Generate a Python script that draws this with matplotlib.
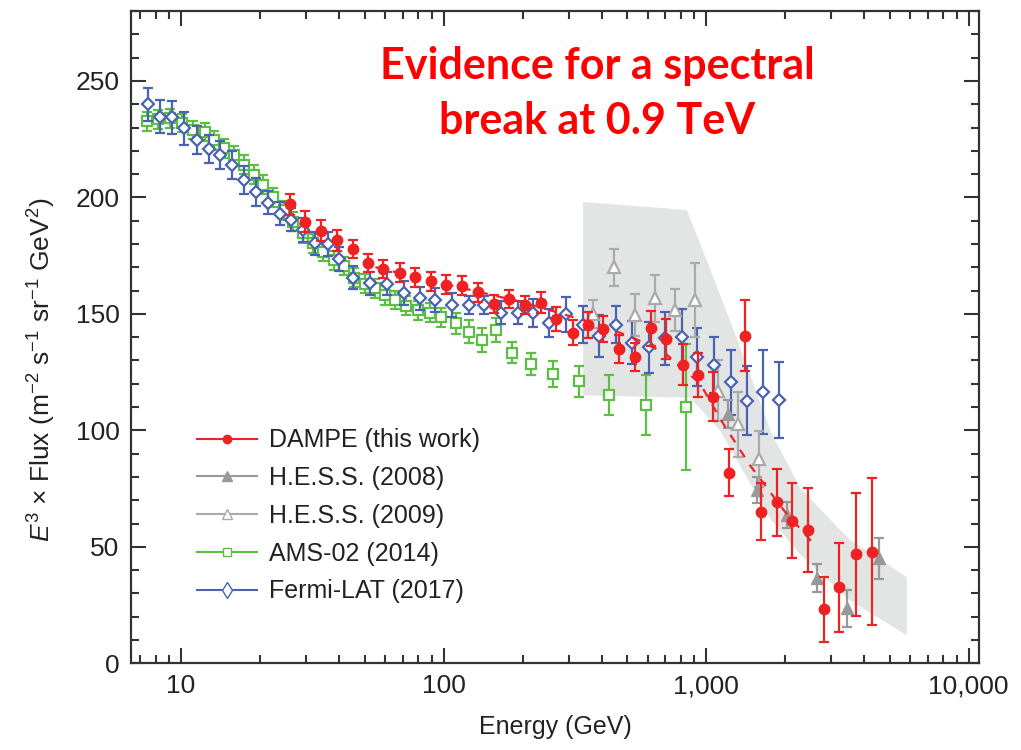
import matplotlib
matplotlib.use("Agg")
import matplotlib.pyplot as plt
import matplotlib.ticker as ticker
from matplotlib.lines import Line2D

plt.rcParams['font.family'] = ['Liberation Sans', 'DejaVu Sans']
plt.rcParams['mathtext.fontset'] = 'custom'
plt.rcParams['mathtext.rm'] = 'Liberation Sans'
plt.rcParams['mathtext.it'] = 'Liberation Sans:italic'

# DAMPE (this work)
dampe_E = [26.0, 29.6, 34.0, 39.2, 45.0, 51.6, 59.0, 68.0, 78.0, 89.5, 102, 118, 135, 155,
           178, 205, 236, 268, 311, 356, 405, 465, 537, 615, 704, 815, 935, 1067, 1228,
           1409, 1622, 1858, 2133, 2455, 2818, 3223, 3718, 4280]
dampe_F = [197.1, 189.6, 185.6, 181.7, 177.8, 171.8, 169.2, 167.7, 165.7, 163.9, 162.5, 162.1,
           159.3, 154.3, 156.4, 153.8, 154.8, 147.8, 142.0, 145.1, 143.4, 135.1, 131.4, 143.8,
           139.1, 128.1, 123.7, 114.4, 81.8, 140.7, 65.1, 69.1, 61.2, 57.2, 23.2, 32.6, 46.8, 47.9]
dampe_err = [4.5, 4.5, 4.5, 4.5, 4.0, 4.0, 4.0, 4.0, 4.0, 4.0, 4.0, 4.0, 4.0, 4.0,
             4.0, 4.0, 4.5, 5.0, 5.5, 5.5, 5.5, 6.0, 6.0, 7.5, 8.5, 8.8, 9.3, 10.6, 10.0,
             15.4, 12.2, 14.3, 16.1, 17.9, 14.0, 19.0, 26.3, 31.5]

# DAMPE smoothly broken power-law fit
fit_E = [55, 100, 200, 400, 545, 700, 950, 1160, 1470, 2000, 2630]
fit_F = [170, 163, 155, 145, 139, 133, 120, 103, 85, 65, 50]

# H.E.S.S. (2008)
hess08_E = [1216, 1560, 2028, 2643, 3436, 4539]
hess08_F = [107.0, 74.4, 63.7, 36.5, 23.6, 45.1]
hess08_err = [6.0, 5.4, 5.7, 6.0, 7.9, 8.7]

# H.E.S.S. (2009)
hess09_E = [372, 446, 537, 640, 762, 908, 1107, 1327, 1586]
hess09_F = [150.0, 170.0, 149.5, 156.7, 151.7, 156.0, 117.0, 102.6, 87.7]
hess09_err = [6.0, 8.0, 9.0, 10.0, 9.0, 16.0, 13.0, 14.0, 12.0]

# AMS-02 (2014)
ams_E = [7.4, 8.2, 9.1, 10.1, 11.1, 12.3, 13.4, 14.6, 15.9, 17.3, 18.9, 20.6, 22.5, 24.6,
         26.8, 29.2, 31.9, 34.8, 38.1, 41.7, 45.6, 50, 55, 60, 65.3, 72, 80, 88.5, 98, 112,
         125, 140, 159, 183, 215, 262, 327, 427, 590, 839]
ams_F = [232.6, 233.5, 234.0, 232.0, 229.0, 228.0, 224.5, 221.0, 218.0, 214.0, 209.7, 205.5,
         200.0, 194.5, 189.6, 184.6, 180.3, 176.7, 173.0, 170.5, 165.5, 163.0, 161.0, 158.0,
         156.0, 153.5, 151.5, 150.5, 148.5, 146.0, 142.4, 138.8, 143.1, 133.4, 128.5, 124.2,
         121.0, 115.2, 110.9, 109.9]
ams_err = [4, 4, 4, 4, 4, 4, 4, 4, 4, 4, 4, 4, 4, 4, 4, 4, 4, 4, 4, 4, 4, 4, 4, 4, 4, 4,
           4, 4, 4, 4.5, 5, 5, 5, 4.7, 4.7, 5.4, 6.7, 8.4, 13, 27]

# Fermi-LAT (2017)
fermi_E = [7.47, 8.32, 9.27, 10.3, 11.5, 12.8, 14.1, 15.6, 17.4, 19.3, 21.4, 23.8, 26.3,
           29.2, 32.4, 36.2, 40.1, 45.1, 52.5, 60.8, 70.4, 81, 92.9, 108, 125, 143, 165, 192,
           220, 253, 293, 339, 392, 454, 521, 604, 698, 807, 922, 1072, 1241, 1437, 1653, 1901]
fermi_F = [240.0, 234.7, 234.3, 229.7, 224.7, 220.7, 218.3, 214.0, 207.5, 202.5, 197.8, 193.0,
           190.5, 186.0, 180.3, 180.0, 173.5, 165.6, 163.1, 163.0, 159.0, 156.7, 156.0, 153.8,
           153.8, 153.8, 150.5, 150.5, 150.5, 146.0, 149.8, 145.3, 140.5, 145.3, 137.7, 135.7,
           139.5, 140.0, 131.6, 128.1, 120.6, 112.8, 116.6, 113.0]
fermi_err = [7, 7, 7, 7, 6, 6, 6, 6, 6, 6, 5, 5, 5, 5, 5, 5, 5, 5, 5, 5, 5, 5, 5, 5, 4, 4,
             5, 5, 6, 6, 7.5, 8, 9, 8, 9.3, 11, 11.4, 12, 12.5, 12, 14, 15, 18, 16.5]

# H.E.S.S. systematic band
band_E = [340, 844, 1006, 1409, 1770, 2290, 3530, 5820,
          5820, 3530, 2290, 1770, 1409, 1128, 870, 340]
band_F = [198, 194.6, 173, 130, 99, 75, 53, 37,
          12, 27, 46.5, 61.5, 81, 100, 114, 115]

red = '#ee2222'
grey08 = '#999999'
grey09 = '#aaaaaa'
green = '#5cbf45'
blue = '#4a63b0'

fig = plt.figure(figsize=(10.21, 7.5), dpi=100)
ax = fig.add_axes([0.128, 0.1156, 0.831, 0.8697])

ax.fill(band_E, band_F, color='#e3e5e5', lw=0, zorder=0)

eb = dict(ls='none', capsize=3.5, elinewidth=1.6, capthick=1.6)
ax.errorbar(ams_E, ams_F, yerr=ams_err, marker='s', ms=7, mfc='white', mec=green,
            mew=1.6, color=green, zorder=2, **eb)
ax.errorbar(fermi_E, fermi_F, yerr=fermi_err, marker='D', ms=6, mfc='white', mec=blue,
            mew=1.6, color=blue, zorder=3, **eb)
ax.errorbar(hess09_E, hess09_F, yerr=hess09_err, marker='^', ms=8, mfc='white', mec=grey09,
            mew=1.6, color=grey09, zorder=3, **eb)
ax.errorbar(hess08_E, hess08_F, yerr=hess08_err, marker='^', ms=8, color=grey08,
            zorder=3, **eb)
ax.plot(fit_E, fit_F, ls=(0, (4, 4)), color=red, lw=1.6, zorder=4)
ax.errorbar(dampe_E, dampe_F, yerr=dampe_err, marker='o', ms=7.5, color=red, zorder=5, **eb)

ax.set_xscale('log')
ax.set_xlim(6.43, 10970)
ax.set_ylim(0, 280)
ax.xaxis.set_major_locator(ticker.LogLocator(base=10, numticks=10))
ax.xaxis.set_minor_locator(ticker.LogLocator(base=10, subs=range(2, 10), numticks=20))
ax.xaxis.set_major_formatter(ticker.FuncFormatter(lambda v, p: f'{v:,.0f}'))
ax.xaxis.set_minor_formatter(ticker.NullFormatter())
ax.yaxis.set_major_locator(ticker.MultipleLocator(50))
ax.yaxis.set_minor_locator(ticker.MultipleLocator(10))
ax.tick_params(which='both', direction='in', top=True, right=True, color='#333333',
               width=1.5, labelsize=19, labelcolor='#222222')
ax.tick_params(which='major', length=11, pad=8)
ax.tick_params(which='minor', length=6)
for s in ax.spines.values():
    s.set_linewidth(1.6)
    s.set_color('#333333')

fig.text(42 / 1021, 1 - 370 / 750,
         r'$E^3$ × Flux (m$^{-2}$ s$^{-1}$ sr$^{-1}$ GeV$^2$)',
         rotation=90, ha='center', va='center', fontsize=19, color='#222222')
fig.text(555 / 1021, 1 - 727 / 750, 'Energy (GeV)', ha='center', va='center',
         fontsize=18, color='#222222')

fig.text(597 / 1021, 1 - 66 / 750, 'Evidence for a spectral', ha='center', va='center',
         fontsize=31, fontweight='bold', color='#ff0000', family=['Lato', 'DejaVu Sans'])
fig.text(597 / 1021, 1 - 121 / 750, 'break at 0.9 TeV', ha='center', va='center',
         fontsize=31, fontweight='bold', color='#ff0000', family=['Lato', 'DejaVu Sans'])

handles = [
    Line2D([], [], color=red, marker='o', ms=6, lw=1.5),
    Line2D([], [], color=grey08, marker='^', ms=7, lw=1.5),
    Line2D([], [], color=grey09, marker='^', ms=7, mfc='white', lw=1.5),
    Line2D([], [], color=green, marker='s', ms=6, mfc='white', lw=1.5),
    Line2D([], [], color=blue, marker='d', ms=8, mfc='white', lw=1.5),
]
labels = ['DAMPE (this work)', 'H.E.S.S. (2008)', 'H.E.S.S. (2009)', 'AMS-02 (2014)',
          'Fermi-LAT (2017)']
leg = ax.legend(handles, labels, loc='lower left', bbox_to_anchor=(0.078, 0.092),
                frameon=False, fontsize=18, handlelength=2.4, handletextpad=0.5,
                labelspacing=0.55, borderpad=0, borderaxespad=0)
for t in leg.get_texts():
    t.set_color('#222222')

fig.savefig('out.png', dpi=100)
